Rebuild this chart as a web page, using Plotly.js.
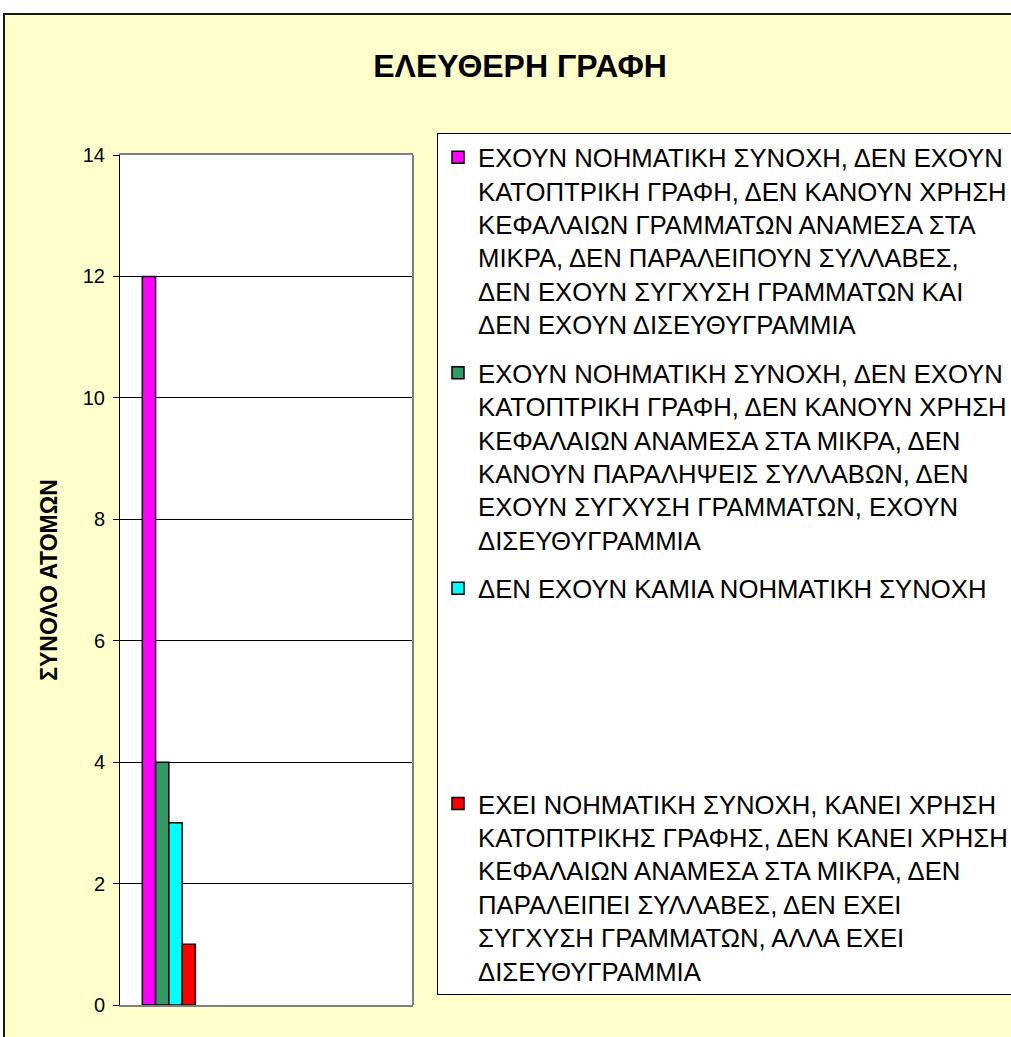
<!DOCTYPE html>
<html>
<head>
<meta charset="utf-8">
<script src="https://cdn.plot.ly/plotly-3.0.1.min.js"></script>
<style>
  html, body { margin: 0; padding: 0; background: #ffffff; overflow: hidden; width: 1011px; height: 1037px; }
  #frame { position: absolute; left: 3px; top: 13px; border-left: 2px solid #1a1a1a; border-top: 2px solid #1a1a1a; }
  #chart { width: 1040px; height: 1040px; }
</style>
</head>
<body>
<div id="frame"><div id="chart"></div></div>
<script>
const chartTitle = "ΕΛΕΥΘΕΡΗ ΓΡΑΦΗ";
const yTitle = "ΣΥΝΟΛΟ ΑΤΟΜΩΝ";
const category = [0];
const seriesNames = [
  "ΕΧΟΥΝ ΝΟΗΜΑΤΙΚΗ ΣΥΝΟΧΗ, ΔΕΝ ΕΧΟΥΝ<br>ΚΑΤΟΠΤΡΙΚΗ ΓΡΑΦΗ, ΔΕΝ ΚΑΝΟΥΝ ΧΡΗΣΗ<br>ΚΕΦΑΛΑΙΩΝ ΓΡΑΜΜΑΤΩΝ ΑΝΑΜΕΣΑ ΣΤΑ<br>ΜΙΚΡΑ, ΔΕΝ ΠΑΡΑΛΕΙΠΟΥΝ ΣΥΛΛΑΒΕΣ,<br>ΔΕΝ ΕΧΟΥΝ ΣΥΓΧΥΣΗ ΓΡΑΜΜΑΤΩΝ ΚΑΙ<br>ΔΕΝ ΕΧΟΥΝ ΔΙΣΕΥΘΥΓΡΑΜΜΙΑ",
  "ΕΧΟΥΝ ΝΟΗΜΑΤΙΚΗ ΣΥΝΟΧΗ, ΔΕΝ ΕΧΟΥΝ<br>ΚΑΤΟΠΤΡΙΚΗ ΓΡΑΦΗ, ΔΕΝ ΚΑΝΟΥΝ ΧΡΗΣΗ<br>ΚΕΦΑΛΑΙΩΝ ΑΝΑΜΕΣΑ ΣΤΑ ΜΙΚΡΑ, ΔΕΝ<br>ΚΑΝΟΥΝ ΠΑΡΑΛΗΨΕΙΣ ΣΥΛΛΑΒΩΝ, ΔΕΝ<br>ΕΧΟΥΝ ΣΥΓΧΥΣΗ ΓΡΑΜΜΑΤΩΝ, ΕΧΟΥΝ<br>ΔΙΣΕΥΘΥΓΡΑΜΜΙΑ",
  "ΔΕΝ ΕΧΟΥΝ ΚΑΜΙΑ ΝΟΗΜΑΤΙΚΗ ΣΥΝΟΧΗ<br> <br> <br> <br> <br> ",
  "ΕΧΕΙ ΝΟΗΜΑΤΙΚΗ ΣΥΝΟΧΗ, ΚΑΝΕΙ ΧΡΗΣΗ<br>ΚΑΤΟΠΤΡΙΚΗΣ ΓΡΑΦΗΣ, ΔΕΝ ΚΑΝΕΙ ΧΡΗΣΗ<br>ΚΕΦΑΛΑΙΩΝ ΑΝΑΜΕΣΑ ΣΤΑ ΜΙΚΡΑ, ΔΕΝ<br>ΠΑΡΑΛΕΙΠΕΙ ΣΥΛΛΑΒΕΣ, ΔΕΝ ΕΧΕΙ<br>ΣΥΓΧΥΣΗ ΓΡΑΜΜΑΤΩΝ, ΑΛΛΑ ΕΧΕΙ<br>ΔΙΣΕΥΘΥΓΡΑΜΜΙΑ"
];
const seriesValues = [12, 4, 3, 1];
const seriesColors = ["#FF00FF", "#339966", "#00FFFF", "#FF0000"];
const yTicks = [0, 2, 4, 6, 8, 10, 12, 14];

const font = "'Liberation Sans', Arial, sans-serif";

const traces = seriesNames.map((name, i) => ({
  type: "bar",
  x: category,
  y: [seriesValues[i]],
  name: name,
  legendgroup: "g" + i,
  marker: { color: seriesColors[i], line: { color: "#000000", width: 1.5 } },
  hoverinfo: "y"
}));

const layout = {
  width: 1040,
  height: 1040,
  paper_bgcolor: "#FFFFCC",
  plot_bgcolor: "#FFFFFF",
  margin: { l: 115, t: 140, r: 632, b: 50 },
  barmode: "group",
  bargap: 0.457,
  bargroupgap: 0,
  font: { family: font, color: "#000000" },
  title: {
    text: "<b>" + chartTitle + "</b>",
    font: { family: font, size: 32, color: "#000000" },
    xref: "container", x: 515 / 1040, xanchor: "center",
    yref: "container", y: 1 - 51 / 1040, yanchor: "middle"
  },
  xaxis: {
    range: [-0.5, 2.5],
    showticklabels: false,
    ticks: "",
    showgrid: false,
    zeroline: false,
    showline: true,
    mirror: true,
    linecolor: "#808080",
    linewidth: 2,
    fixedrange: true
  },
  yaxis: {
    range: [0, 14],
    tickvals: yTicks,
    ticktext: yTicks.map(String),
    tickfont: { family: font, size: 20, color: "#000000" },
    ticks: "outside",
    ticklen: 6,
    tickcolor: "#000000",
    ticklabelstandoff: 4,
    showgrid: true,
    gridcolor: "#000000",
    gridwidth: 1,
    zeroline: false,
    showline: true,
    linecolor: "#000000",
    linewidth: 1,
    title: { text: "<b>" + yTitle + "</b>", font: { family: font, size: 23, color: "#000000" }, standoff: 18 },
    automargin: false,
    fixedrange: true
  },
  shapes: [
    { type: "line", xref: "paper", yref: "paper", x0: 1, x1: 1, y0: 0, y1: 1, line: { color: "#808080", width: 2 } }
  ],
  showlegend: true,
  legend: {
    x: (432 - 115) / 293,
    xanchor: "left",
    y: (990 - 118) / 850,
    yanchor: "top",
    maxheight: 1000,
    bgcolor: "#FFFFFF",
    bordercolor: "#000000",
    borderwidth: 1,
    font: { family: font, size: 25.7, color: "#000000" },
    valign: "top",
    tracegroupgap: 12,
    traceorder: "grouped",
    itemclick: false,
    itemdoubleclick: false
  }
};

Plotly.newPlot("chart", traces, layout, { displayModeBar: false });
</script>
</body>
</html>
